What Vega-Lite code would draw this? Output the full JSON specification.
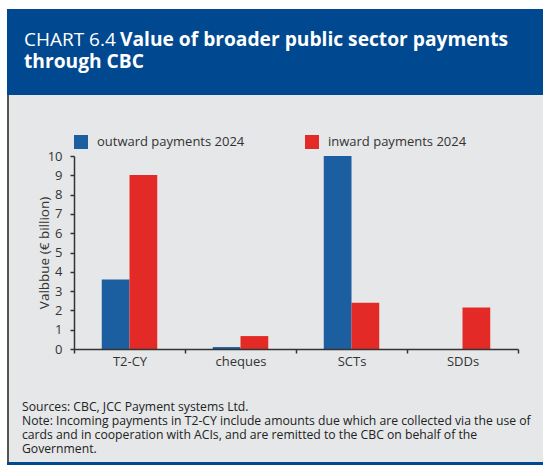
{
  "$schema": "https://vega.github.io/schema/vega-lite/v6.json",
  "width": 444,
  "height": 193,
  "autosize": {"type": "none"},
  "padding": {"left": 74, "top": 156, "right": 25, "bottom": 116},
  "background": "white",
  "config": {"view": {"stroke": null}, "font": "Open Sans"},
  "layer": [
    {
      "data": {"values": [{}]},
      "layer": [
        {"mark": {"type": "rect", "color": "#004990"}, "encoding": {"x": {"value": -67}, "x2": {"value": 469}, "y": {"value": -147}, "y2": {"value": -61}}},
        {"mark": {"type": "rect", "color": "#e6e7e8"}, "encoding": {"x": {"value": -67}, "x2": {"value": 469}, "y": {"value": -61}, "y2": {"value": 306}}},
        {"mark": {"type": "rect", "color": "#555555"}, "encoding": {"x": {"value": -67}, "x2": {"value": -65}, "y": {"value": -61}, "y2": {"value": 306}}},
        {"mark": {"type": "rect", "color": "#004990"}, "encoding": {"x": {"value": -67}, "x2": {"value": 469}, "y": {"value": 306}, "y2": {"value": 309}}},
        {"mark": {"type": "text", "color": "white", "fontSize": 19, "align": "left", "baseline": "alphabetic"}, "encoding": {"x": {"value": -50}, "y": {"value": -110}, "text": {"value": "CHART 6.4"}}},
        {"mark": {"type": "text", "color": "white", "fontSize": 19.2, "fontWeight": "bold", "align": "left", "baseline": "alphabetic"}, "encoding": {"x": {"value": 46}, "y": {"value": -110}, "text": {"value": "Value of broader public sector payments"}}},
        {"mark": {"type": "text", "color": "white", "fontSize": 19.2, "fontWeight": "bold", "align": "left", "baseline": "alphabetic"}, "encoding": {"x": {"value": -50}, "y": {"value": -88}, "text": {"value": "through CBC"}}},
        {"mark": {"type": "text", "color": "#222222", "fontSize": 12.2, "lineHeight": 14, "align": "left", "baseline": "alphabetic"}, "encoding": {"x": {"value": -52}, "y": {"value": 255}, "text": {"value": ["Sources: CBC, JCC Payment systems Ltd.", "Note: Incoming payments in T2-CY include amounts due which are collected via the use of", "cards and in cooperation with ACIs, and are remitted to the CBC on behalf of the", "Government."]}}}
      ]
    },
    {
      "data": {
        "values": [
          {"category": "T2-CY", "series": "outward payments 2024", "value": 3.6},
          {"category": "T2-CY", "series": "inward payments 2024", "value": 9.02},
          {"category": "cheques", "series": "outward payments 2024", "value": 0.1},
          {"category": "cheques", "series": "inward payments 2024", "value": 0.67},
          {"category": "SCTs", "series": "outward payments 2024", "value": 10.0},
          {"category": "SCTs", "series": "inward payments 2024", "value": 2.4},
          {"category": "SDDs", "series": "outward payments 2024", "value": 0},
          {"category": "SDDs", "series": "inward payments 2024", "value": 2.15}
        ]
      },
      "mark": {"type": "bar"},
      "encoding": {
        "x": {
          "field": "category", "type": "nominal",
          "sort": ["T2-CY", "cheques", "SCTs", "SDDs"],
          "scale": {"paddingInner": 0, "paddingOuter": 0},
          "axis": {"title": null, "zindex": 1, "labelAngle": 0, "tickBand": "extent", "tickSize": 4, "labelPadding": 2, "labelFontSize": 13, "labelColor": "#333333", "domainColor": "#333333", "tickColor": "#333333", "domainWidth": 1.5, "tickWidth": 1.5}
        },
        "xOffset": {
          "field": "series", "type": "nominal",
          "sort": ["outward payments 2024", "inward payments 2024"],
          "scale": {"paddingInner": 0, "paddingOuter": 1.05}
        },
        "y": {
          "field": "value", "type": "quantitative",
          "scale": {"domain": [0, 10], "nice": false},
          "axis": {"title": "Valbbue (€ billion)", "zindex": 1, "titleFontSize": 13.5, "titleFontWeight": "normal", "titleColor": "#333333", "titleX": -23, "titleY": 96.5, "values": [0, 1, 2, 3, 4, 5, 6, 7, 8, 9, 10], "grid": false, "tickSize": 4, "labelPadding": 8, "labelFontSize": 13, "labelColor": "#333333", "domainColor": "#333333", "tickColor": "#333333", "domainWidth": 1.5, "tickWidth": 1.5}
        },
        "color": {
          "field": "series", "type": "nominal",
          "scale": {"domain": ["outward payments 2024", "inward payments 2024"], "range": ["#1c5fa0", "#e42a27"]},
          "legend": {"title": null, "zindex": 1, "orient": "none", "legendX": 0, "legendY": -21, "direction": "horizontal", "symbolType": "square", "symbolSize": 196, "symbolStrokeWidth": 0, "labelFontSize": 13, "labelOffset": 9, "labelColor": "#333333", "columnPadding": 60, "padding": 0}
        }
      }
    }
  ]
}
